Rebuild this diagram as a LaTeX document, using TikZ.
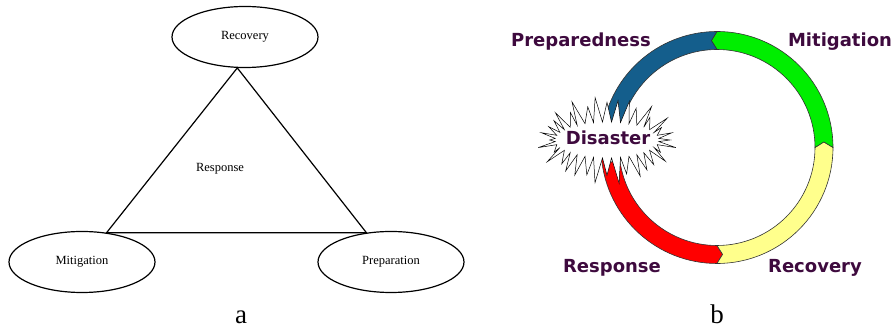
\documentclass[tikz,border=0pt]{standalone}
\usepackage{fontspec}
\setmainfont{Liberation Serif}
\newfontfamily\phasefont{DejaVu Sans}
\usetikzlibrary{shapes.geometric}

\definecolor{phasetext}{RGB}{62,10,62}
\definecolor{prepblue}{RGB}{20,94,140}
\definecolor{mitgreen}{RGB}{0,238,0}
\definecolor{recyellow}{RGB}{255,255,140}
\definecolor{respred}{RGB}{255,0,0}

\begin{document}
\begin{tikzpicture}[x=1pt, y=1pt,
  phase/.style={ellipse, draw, line width=1.2pt, minimum width=146pt, minimum height=61pt, inner sep=0pt, font=\fontsize{12.5}{14}\selectfont},
  ringlabel/.style={font=\phasefont\bfseries\fontsize{18}{20}\selectfont, text=phasetext, anchor=base},
  panel/.style={font=\fontsize{27}{30}\selectfont, anchor=base, inner sep=0pt}]

\useasboundingbox (0,0) rectangle (895,329);

% (a) the triangle of phases
\node[phase] (recovery) at (245,292) {Recovery};
\node[phase] (mitigation) at (82,67) {Mitigation};
\node[phase] (preparation) at (391,67) {Preparation};
\node[font=\fontsize{12.5}{14}\selectfont] (response) at (220,160) {Response};
\draw[line width=1.2pt] (recovery.256) -- (mitigation.50) -- (preparation.130) -- cycle;
\node[panel] (capa) at (241,5) {a};

% (b) the ring, one arrow segment per phase
\begin{scope}[shift={(717,181.5)}]
\foreach \fromang/\toang/\col in {185/270/respred, 270/360/recyellow, 0/90/mitgreen, 90/168/prepblue} {
    \filldraw[fill=\col, draw=black!80, line width=0.6pt]
        (\fromang:116) arc[start angle=\fromang, end angle=\toang, radius=116]
        -- (\toang+3:107) -- (\toang:98)
        arc[start angle=\toang, end angle=\fromang, radius=98]
        -- (\fromang+3:107) -- cycle;
}
\end{scope}

% the starburst over the gap
\begin{scope}[shift={(607,189)}]
\filldraw[fill=white, draw=black, line width=0.5pt]
    (-5:52 and 18)
    \foreach \i [evaluate=\i as \px using 70*(0.9+0.1*sin(\i*157)),
                 evaluate=\i as \py using 44*(0.9+0.1*sin(\i*157))] in {0,...,35} {
        -- ({\i*10}:{\px} and {\py}) -- ({\i*10+5}:52 and 18)
    } -- cycle;
\end{scope}
\node[ringlabel, anchor=center] (disaster) at (608,191.5) {Disaster};

% and the labels
\node[ringlabel] (preparedness) at (581,282) {Preparedness};
\node[ringlabel] (mitigationb) at (840,282) {Mitigation};
\node[ringlabel] (responseb) at (612,56) {Response};
\node[ringlabel] (recoveryb) at (815,56) {Recovery};
\node[panel] (capb) at (717,5) {b};
\end{tikzpicture}
\end{document}
